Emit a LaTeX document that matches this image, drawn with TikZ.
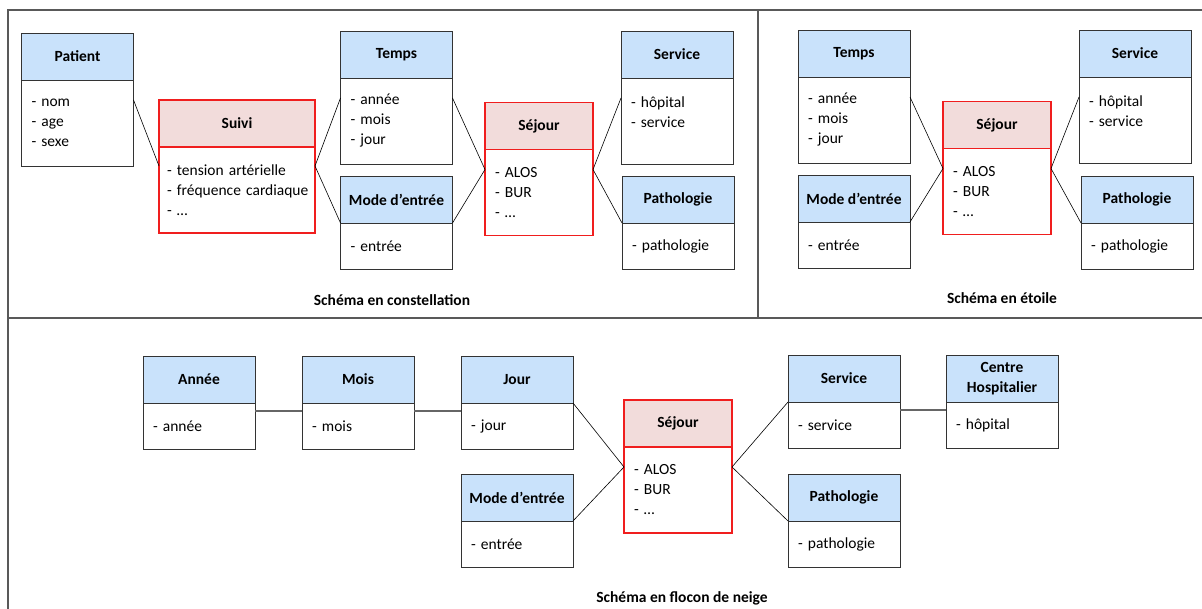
\documentclass[tikz,border=0pt]{standalone}
\usepackage{fontspec}
\setmainfont{Carlito}
\usepackage{xcolor}
\usepackage{tikz}
\usetikzlibrary{positioning}
\definecolor{hdblue}{RGB}{201,226,251}
\definecolor{hdred}{RGB}{242,220,219}
\definecolor{boxred}{RGB}{240,30,30}

\begin{document}
\begin{tikzpicture}[x=1pt, y=-1pt,
    every node/.style={font=\fontsize{15.5}{20}\selectfont, outer sep=0pt},
    head/.style={draw=black!80, fill=hdblue, line width=0.9pt, minimum width=112pt, minimum height=47pt,
        align=center, font=\fontsize{15.5}{20}\selectfont\bfseries},
    body/.style={draw=black!80, line width=0.9pt, text width=92pt, inner xsep=10pt, align=left, minimum height=86pt},
    short/.style={minimum height=46pt},
    facthead/.style={head, draw=boxred, line width=1.1pt, fill=hdred, minimum width=108pt},
    factbody/.style={body, draw=boxred, line width=1.1pt, text width=88pt},
    link/.style={draw=black, line width=0.6pt},
    chain/.style={draw=black!60, line width=1.6pt},
    frame/.style={draw=black!65, line width=2pt},
    caption/.style={font=\fontsize{15.5}{20}\selectfont\bfseries}]
   \useasboundingbox (0,0) rectangle (1202,609);
   % Frames
   \draw[frame] (8,609) -- (8,10) -- (1202,10);
   \draw[frame] (8,318) -- (1202,318);
   \draw[frame] (758,10) -- (758,318);

   % Schema en constellation
   \node[head] (patH) at (77.5,56.5) {Patient};
   \node[body, below=0pt of patH] (pat) {- nom\\- age\\- sexe};
   \node[facthead, minimum width=156pt] (suiH) at (237,123.5) {Suivi};
   \node[factbody, text width=140pt, inner xsep=8pt, below=0pt of suiH] (sui) {- tension artérielle\\\mbox{- fréquence cardiaque}\\- …};
   \node[head] (temH) at (396.5,54.5) {Temps};
   \node[body, below=0pt of temH] (tem) {- année\\- mois\\- jour};
   \node[head] (modH) at (396.5,199.5) {Mode d’entrée};
   \node[body, short, below=0pt of modH] (mod) {- entrée};
   \node[facthead] (sejH) at (539,126) {Séjour};
   \node[factbody, below=0pt of sejH] (sej) {- ALOS\\- BUR\\- …};
   \node[head] (serH) at (677,54.5) {Service};
   \node[body, text depth=37pt, below=0pt of serH] (ser) {- hôpital\\- service};
   \node[head] (patoH) at (678,199.5) {Pathologie};
   \node[body, short, below=0pt of patoH] (pato) {- pathologie};
   \draw[link] ([yshift=-20pt]pat.north east) -- ([yshift=-19pt]sui.north west);
   \draw[link] ([yshift=-19pt]sui.north east) -- ([yshift=-20pt]tem.north west);
   \draw[link] ([yshift=-19pt]sui.north east) -- (mod.north west);
   \draw[link] ([yshift=-20pt]tem.north east) -- ([yshift=-20pt]sej.north west);
   \draw[link] (mod.north east) -- ([yshift=-20pt]sej.north west);
   \draw[link] ([yshift=-20pt]sej.north east) -- ([yshift=-20pt]ser.north west);
   \draw[link] ([yshift=-20pt]sej.north east) -- (pato.north west);
   \node[caption] (capA) at (392,300) {Schéma en constellation};

   % Schema en etoile
   \node[head] (temH2) at (854,53.5) {Temps};
   \node[body, below=0pt of temH2] (tem2) {- année\\- mois\\- jour};
   \node[head] (modH2) at (854,198.5) {Mode d’entrée};
   \node[body, short, below=0pt of modH2] (mod2) {- entrée};
   \node[facthead] (sejH2) at (997,125) {Séjour};
   \node[factbody, below=0pt of sejH2] (sej2) {- ALOS\\- BUR\\- …};
   \node[head] (serH2) at (1135,53.5) {Service};
   \node[body, text depth=37pt, below=0pt of serH2] (ser2) {- hôpital\\- service};
   \node[head] (patoH2) at (1137,199.5) {Pathologie};
   \node[body, short, below=0pt of patoH2] (pato2) {- pathologie};
   \draw[link] ([yshift=-20pt]tem2.north east) -- ([yshift=-20pt]sej2.north west);
   \draw[link] (mod2.north east) -- ([yshift=-20pt]sej2.north west);
   \draw[link] ([yshift=-20pt]sej2.north east) -- ([yshift=-20pt]ser2.north west);
   \draw[link] ([yshift=-20pt]sej2.north east) -- (pato2.north west);
   \node[caption] (capB) at (1002,298) {Schéma en étoile};

   % Schema en flocon de neige
   \node[head] (anH) at (199,379.5) {Année};
   \node[body, short, below=0pt of anH] (an) {- année};
   \node[head] (moisH) at (358,379.5) {Mois};
   \node[body, short, below=0pt of moisH] (mois) {- mois};
   \node[head] (jourH) at (517,379.5) {Jour};
   \node[body, short, below=0pt of jourH] (jour) {- jour};
   \node[head] (modH3) at (517,497.5) {Mode d’entrée};
   \node[body, short, below=0pt of modH3] (mod3) {- entrée};
   \node[facthead] (sejH3) at (678,423.5) {Séjour};
   \node[factbody, below=0pt of sejH3] (sej3) {- ALOS\\- BUR\\- …};
   \node[head] (serH3) at (844,378.5) {Service};
   \node[body, short, below=0pt of serH3] (ser3) {- service};
   \node[head] (chH) at (1002,378.5) {Centre\\Hospitalier};
   \node[body, short, below=0pt of chH] (ch) {- hôpital};
   \node[head] (patoH3) at (844,497.5) {Pathologie};
   \node[body, short, below=0pt of patoH3] (pato3) {- pathologie};
   \draw[chain] ([yshift=-8pt]an.north east) -- ([yshift=-8pt]mois.north west);
   \draw[chain] ([yshift=-8pt]mois.north east) -- ([yshift=-8pt]jour.north west);
   \draw[chain] ([yshift=-8pt]ser3.north east) -- ([yshift=-8pt]ch.north west);
   \draw[link] (jour.north east) -- ([yshift=-20pt]sej3.north west);
   \draw[link] (mod3.north east) -- ([yshift=-20pt]sej3.north west);
   \draw[link] ([yshift=-20pt]sej3.north east) -- (ser3.north west);
   \draw[link] ([yshift=-20pt]sej3.north east) -- (pato3.north west);
   \node[caption] (capC) at (682,598) {Schéma en flocon de neige};
\end{tikzpicture}
\end{document}
